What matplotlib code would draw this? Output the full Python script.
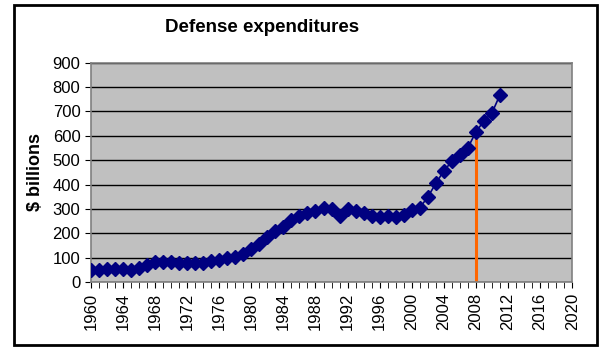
import matplotlib
matplotlib.use('Agg')
import matplotlib.pyplot as plt
from matplotlib.patches import Rectangle
from matplotlib.ticker import MultipleLocator

plt.rcParams['font.family'] = ['Liberation Sans', 'DejaVu Sans']

# Defense expenditures, $ billions
years = list(range(1960, 2012))
spending = [48, 49, 52, 53, 54, 51, 59, 71, 82, 82,
            82, 79, 79, 77, 80, 86, 90, 98, 104, 116,
            134, 158, 185, 210, 227, 253, 273, 282, 290, 304,
            300, 273, 298, 291, 282, 272, 266, 271, 268, 275,
            294, 305, 349, 405, 456, 495, 522, 551, 616, 661,
            694, 768]
marker_year = 2008
marker_value = 616
x_labels = list(range(1960, 2021, 4))

fig = plt.figure(figsize=(6.1, 3.58), dpi=100)
ax = fig.add_axes([0.149, 0.212, 0.789, 0.613])

# chart border
fig.patches.append(Rectangle((14 / 610, 1 - 345 / 358), 583 / 610, 340 / 358,
                             transform=fig.transFigure, fill=False,
                             edgecolor='black', linewidth=2))

ax.set_facecolor('#c0c0c0')
for s in ax.spines.values():
    s.set_color('#808080')
    s.set_linewidth(1.2)

ax.plot(years, spending, color='#000080', marker='D', markersize=7,
        linewidth=1.2, zorder=3)
ax.plot([marker_year, marker_year], [0, marker_value], color='#ff6600',
        linewidth=2.2, zorder=2)

ax.set_xlim(1960, 2020)
ax.set_ylim(0, 900)
ax.yaxis.set_major_locator(MultipleLocator(100))
ax.grid(axis='y', color='black', linewidth=1)
ax.set_axisbelow(True)

ax.set_xticks(x_labels)
ax.set_xticklabels([str(y) for y in x_labels], rotation=90)
ax.xaxis.set_minor_locator(MultipleLocator(1))
ax.tick_params(axis='x', which='both', length=4, color='black', labelsize=12)
ax.tick_params(axis='y', length=4, color='black', labelsize=12)

ax.set_ylabel('$ billions', fontsize=13, fontweight='bold', labelpad=6)
fig.text(262 / 610, 1 - 28 / 358, 'Defense expenditures', fontsize=13.5,
         fontweight='bold', ha='center', va='center')

fig.savefig('out.png', dpi=100, facecolor='white')
